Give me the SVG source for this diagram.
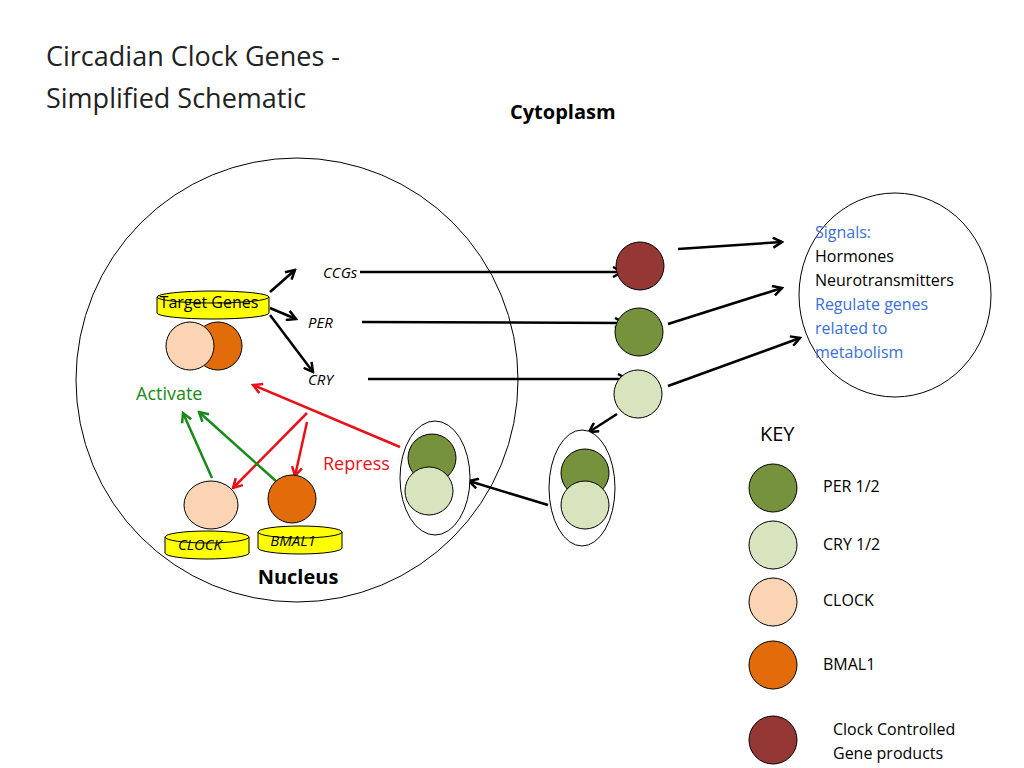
<svg xmlns="http://www.w3.org/2000/svg" width="1024" height="768" viewBox="0 0 1024 768">
<style>
text{font-family:"Open Sans","Liberation Sans",sans-serif}
.it{font-style:italic;font-size:15px}
.cyl{fill:#ffff00;stroke:#000;stroke-width:1}
.bl{stroke:#000;stroke-width:2.5;fill:none;marker-end:url(#ak)}
.rd{stroke:#e8111a;stroke-width:2.5;fill:none;marker-end:url(#ar)}
.gr{stroke:#178a17;stroke-width:2.5;fill:none;marker-end:url(#ag)}
.dg{fill:#76923c;stroke:#000}
.lg{fill:#d7e4bd;stroke:#000}
.lo{fill:#fbd4b4;stroke:#000}
.or{fill:#e36c0a;stroke:#000}
.dr{fill:#953735;stroke:#000}
.key{font-size:16px}
</style>
<defs>
<marker id="ak" markerWidth="12" markerHeight="12" refX="10" refY="6" orient="auto" markerUnits="userSpaceOnUse"><path d="M1,1 L10,6 L1,11" fill="none" stroke="#000" stroke-width="2.5"/></marker>
<marker id="ar" markerWidth="12" markerHeight="12" refX="10" refY="6" orient="auto" markerUnits="userSpaceOnUse"><path d="M1,1 L10,6 L1,11" fill="none" stroke="#e8111a" stroke-width="2.5"/></marker>
<marker id="ag" markerWidth="12" markerHeight="12" refX="10" refY="6" orient="auto" markerUnits="userSpaceOnUse"><path d="M1,1 L10,6 L1,11" fill="none" stroke="#178a17" stroke-width="2.5"/></marker>
</defs>
<rect width="1024" height="768" fill="#fff"/>
<text x="46" y="66" font-size="27" fill="#222">Circadian Clock Genes -</text>
<text x="46" y="108" font-size="27" fill="#222">Simplified Schematic</text>
<text x="510" y="119" font-size="20" font-weight="bold">Cytoplasm</text>
<g id="nucleus"><ellipse cx="297" cy="380" rx="221" ry="222" fill="none" stroke="#000"/>
<text x="298" y="584" font-size="20" font-weight="bold" text-anchor="middle">Nucleus</text></g>
<g id="signals"><ellipse cx="895" cy="295" rx="96" ry="102" fill="#fff" stroke="#000"/>
<text font-size="16"><tspan x="815" y="238" fill="#3a6fd8">Signals:</tspan><tspan x="815" y="262">Hormones</tspan><tspan x="815" y="286">Neurotransmitters</tspan><tspan x="815" y="310" fill="#3a6fd8">Regulate genes</tspan><tspan x="815" y="334" fill="#3a6fd8">related to</tspan><tspan x="815" y="358" fill="#3a6fd8">metabolism</tspan></text></g>
<g id="connectors">
<line class="bl" x1="270" y1="292" x2="295" y2="270"/>
<line class="bl" x1="270" y1="308" x2="296" y2="319"/>
<line class="bl" x1="270" y1="315" x2="313" y2="372"/>
<line class="bl" x1="360" y1="272" x2="622" y2="272"/>
<line class="bl" x1="362" y1="322" x2="624" y2="323"/>
<line class="bl" x1="368" y1="379" x2="627" y2="379"/>
<line class="bl" x1="678" y1="249" x2="782" y2="242"/>
<line class="bl" x1="668" y1="324" x2="782" y2="288"/>
<line class="bl" x1="668" y1="386" x2="800" y2="338"/>
<line class="bl" x1="617" y1="414" x2="589" y2="432"/>
<line class="bl" x1="548" y1="505" x2="469" y2="481"/>
<line class="rd" x1="400" y1="447" x2="253" y2="385"/>
<line class="rd" x1="307" y1="413" x2="233" y2="488"/>
<line class="rd" x1="307" y1="422" x2="295" y2="476"/>
<line class="gr" x1="212" y1="478" x2="183" y2="413"/>
<line class="gr" x1="277" y1="482" x2="199" y2="412"/>
</g>
<g id="target-genes">
<ellipse class="cyl" cx="213" cy="313" rx="56" ry="6"/>
<rect x="157" y="297" width="112" height="16" fill="#ffff00"/>
<line x1="157" y1="297" x2="157" y2="313" stroke="#000"/><line x1="269" y1="297" x2="269" y2="313" stroke="#000"/>
<ellipse class="cyl" cx="213" cy="297" rx="56" ry="6"/>
<text x="209" y="308" font-size="16" text-anchor="middle">Target Genes</text>
<circle class="or" cx="218" cy="346" r="24"/><circle class="lo" cx="190" cy="346" r="24"/>
</g>
<text x="323" y="278" class="it">CCGs</text>
<text x="308" y="328" class="it">PER</text>
<text x="308" y="385" class="it">CRY</text>
<text x="136" y="400" font-size="18" fill="#178a17">Activate</text>
<text x="323" y="470" font-size="18" fill="#e8111a">Repress</text>
<g id="clock">
<ellipse class="cyl" cx="207" cy="553" rx="42" ry="6"/>
<rect x="165" y="537" width="84" height="16" fill="#ffff00"/>
<line x1="165" y1="537" x2="165" y2="553" stroke="#000"/><line x1="249" y1="537" x2="249" y2="553" stroke="#000"/>
<ellipse class="cyl" cx="207" cy="537" rx="42" ry="6"/>
<text x="200" y="550" class="it" text-anchor="middle">CLOCK</text>
<ellipse class="lo" cx="211" cy="505" rx="27" ry="24"/>
</g>
<g id="bmal1">
<ellipse class="cyl" cx="300" cy="548" rx="42" ry="6"/>
<rect x="258" y="532" width="84" height="16" fill="#ffff00"/>
<line x1="258" y1="532" x2="258" y2="548" stroke="#000"/><line x1="342" y1="532" x2="342" y2="548" stroke="#000"/>
<ellipse class="cyl" cx="300" cy="532" rx="42" ry="6"/>
<text x="293" y="546" class="it" text-anchor="middle">BMAL1</text>
<circle class="or" cx="292" cy="499" r="24"/>
</g>
<g id="ccg-product"><circle class="dr" cx="640" cy="266" r="24"/></g>
<g id="per"><circle class="dg" cx="639" cy="332" r="24"/></g>
<g id="cry"><circle class="lg" cx="638" cy="394" r="24"/></g>
<g id="complex-cyto"><ellipse cx="582" cy="488" rx="33" ry="58" fill="#fff" stroke="#000"/>
<circle class="dg" cx="585" cy="473" r="24"/><circle class="lg" cx="585" cy="505" r="24"/></g>
<g id="complex-nuc"><ellipse cx="435" cy="478" rx="35" ry="57" fill="#fff" stroke="#000"/>
<circle class="dg" cx="432" cy="458" r="24"/><circle class="lg" cx="429" cy="491" r="24"/></g>
<g id="key">
<text x="760" y="441" font-size="20">KEY</text>
<circle class="dg" cx="773" cy="488" r="24"/><text x="823" y="492" class="key">PER 1/2</text>
<circle class="lg" cx="773" cy="545" r="24"/><text x="823" y="550" class="key">CRY 1/2</text>
<circle class="lo" cx="773" cy="602" r="24"/><text x="823" y="606" class="key">CLOCK</text>
<circle class="or" cx="773" cy="665" r="24"/><text x="823" y="670" class="key">BMAL1</text>
<circle class="dr" cx="773" cy="740" r="24"/><text class="key"><tspan x="833" y="735">Clock Controlled</tspan><tspan x="833" y="759">Gene products</tspan></text>
</g>
</svg>
